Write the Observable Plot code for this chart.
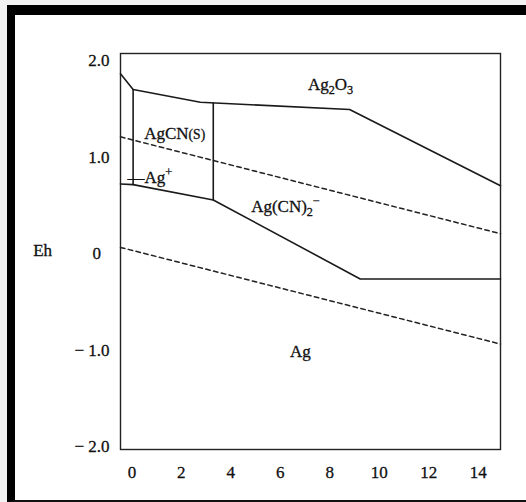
<!DOCTYPE html>
<html><head><meta charset="utf-8">
<script src="https://cdn.jsdelivr.net/npm/d3@7"></script>
<script src="https://cdn.jsdelivr.net/npm/@observablehq/plot@0.6"></script>
<style>
html,body{margin:0;padding:0;background:#f3f3f3;}
#wrap{position:relative;width:526px;height:502px;overflow:hidden;background:#f3f3f3;}
#border{position:absolute;left:7px;top:5px;right:-10px;bottom:0;box-sizing:border-box;border-top:10px solid #000;border-left:8px solid #000;border-bottom:2px solid #111;background:#fff;}
#chart{position:absolute;left:0;top:0;}
#chart svg text{stroke:#111;stroke-width:0.3px;}
</style></head><body><div id="wrap"><div id="border"></div><div id="chart"></div></div>
<script>
// ---- data (pH, Eh) ----
const phTicks = [0, 2, 4, 6, 8, 10, 12, 14];
const ehTicks = [-2, -1, 0, 1, 2];

const upperPH = [-0.46, 0.05, 2.77, 8.8, 14.9];
const upperEh = [1.864, 1.701, 1.570, 1.494, 0.705];

const lowerPH = [-0.46, 0.05, 3.29, 9.23, 14.9];
const lowerEh = [0.723, 0.716, 0.557, -0.262, -0.262];

const leftVertPH = [0.05, 0.05];
const leftVertEh = [1.701, 0.716];

const midVertPH = [3.29, 3.29];
const midVertEh = [1.56, 0.557];

const o2PH = [-0.46, 14.9];
const o2Eh = [1.211, 0.207];

const h2PH = [-0.46, 14.9];
const h2Eh = [0.065, -0.937];

const labelText = ["Ag_{2}O_{3}", "AgCN~{(S)}", "\u2014Ag^{+}", "Ag(CN)_{2}^{\u2212}", "Ag", "Eh"];
const labelPH = [8.03, 1.73, -0.18, 4.82, 6.81, -3.61];
const labelEh = [1.754, 1.246, 0.79, 0.489, -1.014, 0.028];
const labelAnchor = ["middle", "middle", "start", "start", "middle", "middle"];

// ---- build tables ----
const pts = (xs, ys, id) => xs.map((x, i) => ({pH: x, Eh: ys[i], id}));
const solid = [
  ...pts(upperPH, upperEh, "upper"),
  ...pts(lowerPH, lowerEh, "lower"),
  ...pts(leftVertPH, leftVertEh, "lv"),
  ...pts(midVertPH, midVertEh, "mv")
];
const dashed = [...pts(o2PH, o2Eh, "o2"), ...pts(h2PH, h2Eh, "h2")];
const labels = labelText.map((t, i) => ({t, pH: labelPH[i], Eh: labelEh[i], a: labelAnchor[i]}));

const fs = 17;
const fmt = d => d === 0 ? "0\u2002" : (d < 0 ? "\u2212 " : "") + Math.abs(d).toFixed(1);

const chart = Plot.plot({
  width: 526, height: 502,
  marginLeft: 120, marginRight: 26, marginTop: 53, marginBottom: 53,
  x: {domain: [-0.46, 14.9]},
  y: {domain: [-2.03, 2.075]},
  style: {background: "transparent", fontFamily: "'Liberation Serif','DejaVu Serif',serif", fontSize: fs + "px", color: "#111", overflow: "visible"},
  marks: [
    Plot.frame({stroke: "#222", strokeWidth: 1.4}),
    Plot.axisX(phTicks, {anchor: "bottom", tickSize: 0, tickPadding: 16, label: null, fontSize: fs}),
    Plot.axisY(ehTicks, {anchor: "left", tickSize: 0, tickPadding: 11, tickFormat: fmt, label: null, fontSize: fs}),
    Plot.line(dashed, {x: "pH", y: "Eh", z: "id", stroke: "#222", strokeWidth: 1.5, strokeDasharray: "4.5,3.5"}),
    Plot.line(solid, {x: "pH", y: "Eh", z: "id", stroke: "#1a1a1a", strokeWidth: 1.6}),
    Plot.text(labels.filter(d => d.a === "middle"), {x: "pH", y: "Eh", text: "t", textAnchor: "middle", fontSize: fs, fill: "#111"}),
    Plot.text(labels.filter(d => d.a === "start"), {x: "pH", y: "Eh", text: "t", textAnchor: "start", fontSize: fs, fill: "#111"})
  ]
});

// rich text: _{sub} ^{sup} ~{small}
const NS = "http://www.w3.org/2000/svg";
chart.querySelectorAll("text").forEach(el => {
  const s = el.textContent;
  if (!/[_^~]\{/.test(s)) return;
  el.textContent = "";
  const re = /_\{([^}]*)\}|\^\{([^}]*)\}|~\{([^}]*)\}|([^_^~]+)/g;
  let m, cur = 0;
  while ((m = re.exec(s))) {
    const ts = document.createElementNS(NS, "tspan");
    let target = 0, size = fs, txt;
    if (m[1] !== undefined) { target = 0.25 * fs; size = 0.72 * fs; txt = m[1]; }
    else if (m[2] !== undefined) { target = -0.42 * fs; size = 0.72 * fs; txt = m[2]; }
    else if (m[3] !== undefined) { target = 0; size = 0.8 * fs; txt = m[3]; }
    else { txt = m[4]; }
    if (target !== cur) ts.setAttribute("dy", (target - cur).toFixed(2));
    cur = target;
    ts.setAttribute("font-size", size.toFixed(1));
    ts.textContent = txt;
    el.appendChild(ts);
  }
});

document.getElementById("chart").appendChild(chart);
</script></body></html>
